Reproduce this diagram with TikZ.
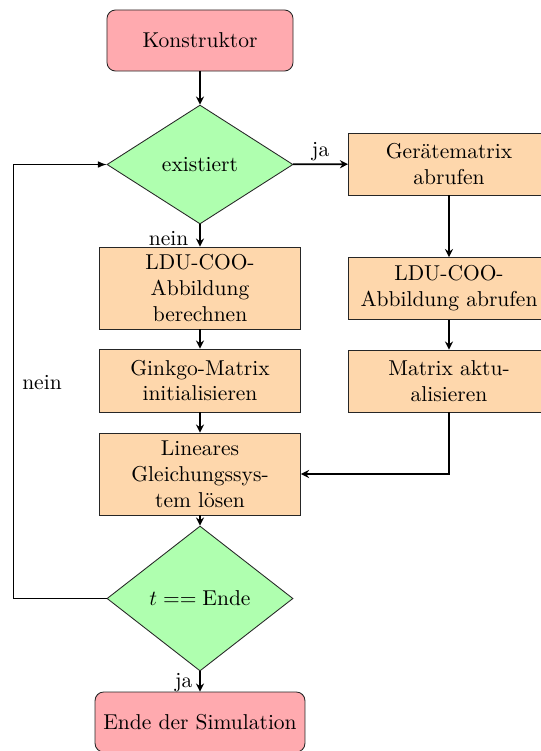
\documentclass[tikz,border=0pt]{standalone}
\usetikzlibrary{shapes.geometric,arrows.meta}
\definecolor{termfill}{RGB}{255,170,175}
\definecolor{procfill}{RGB}{254,215,172}
\definecolor{decfill}{RGB}{175,255,175}
\tikzset{
  base/.style={draw=black!85, line width=0.4pt, align=center, inner sep=2pt, font=\normalsize},
  term/.style={base, fill=termfill, rounded corners=4pt},
  proc/.style={base, fill=procfill, minimum width=93.5pt},
  decide/.style={base, diamond, fill=decfill, inner sep=0pt, minimum width=86.5pt},
  flow/.style={-{Stealth[length=3.8pt, width=3.8pt, inset=1.3pt]}, thick},
  loopline/.style={-latex, line width=0.4pt},
  lbl/.style={inner sep=1pt}
}
\begin{document}
\begin{tikzpicture}[x=0.465pt, y=-0.465pt]
\useasboundingbox (0,0) rectangle (541,751);

% left column
\node[term, minimum width=86.5pt, minimum height=28.4pt] (konst) at (200,40.5) {Konstruktor};
\node[decide, minimum height=55.3pt] (exist) at (200,164.5) {existiert};
\node[proc, minimum height=38.1pt] (ldu) at (200,288) {LDU-COO-\\Abbildung\\berechnen};
\node[proc, minimum height=29.3pt] (ginkgo) at (200,380.5) {Ginkgo-Matrix\\initialisieren};
\node[proc, minimum height=38.1pt] (solve) at (200,474) {Lineares\\Gleichungssys-\\tem lösen};
\node[decide, minimum height=67.4pt] (tend) at (200,598.5) {$t == \mathrm{Ende}$};
\node[term, minimum width=97.6pt, minimum height=27.9pt] (simend) at (200,722) {Ende der Simulation};

% right column
\node[proc, minimum height=28.8pt] (geraet) at (449,164) {Gerätematrix\\abrufen};
\node[proc, minimum height=28.8pt] (lduget) at (449,288.5) {LDU-COO-\\Abbildung abrufen};
\node[proc, minimum height=28.8pt] (update) at (449,381) {Matrix aktu-\\alisieren};

% main flow
\draw[flow] (konst) -- (exist);
\draw[flow] (exist) -- node[lbl, above] {ja} (geraet);
\draw[flow] (exist) -- (ldu);
\node[lbl, anchor=east] (nein1) at (191,239) {nein};
\draw[flow] (ldu) -- (ginkgo);
\draw[flow] (ginkgo) -- (solve);
\draw[flow] (solve) -- (tend);
\draw[flow] (tend) -- (simend);
\node[lbl, anchor=east] (ja2) at (195,683) {ja};

% right branch
\draw[flow] (geraet) -- (lduget);
\draw[flow] (lduget) -- (update);
\draw[flow] (update.south) |- (solve.east);

% repeat loop
\coordinate (loopc) at (13,598.5);
\draw[loopline] (tend.west) -- (loopc) |- (exist.west);
\node[lbl] (nein2) at (42,383) {nein};
\end{tikzpicture}
\end{document}
